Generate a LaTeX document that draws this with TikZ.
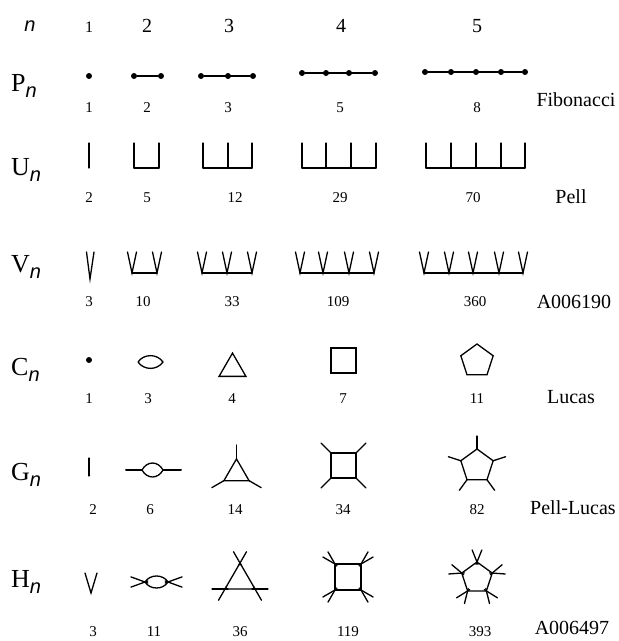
\documentclass[tikz,border=0pt]{standalone}
\usepackage{fontspec}
\setmainfont{Liberation Serif}
\setsansfont{Liberation Sans}
\usetikzlibrary{calc,shapes.geometric}
\newcommand{\nsub}{\raisebox{-6pt}{\fontsize{20}{20}\selectfont\sffamily\itshape n}}

\begin{document}
\begin{tikzpicture}[
  x=1pt, y=1pt,
  hd/.style={font=\fontsize{20}{22}\selectfont},
  rowlab/.style={anchor=base west, inner sep=0pt, font=\fontsize{26}{30}\selectfont},
  num/.style={font=\fontsize{15}{17}\selectfont},
  seq/.style={font=\fontsize{20}{22}\selectfont},
  edge/.style={line width=1.3pt, line cap=round},
  dot/.style={circle, fill, inner sep=0pt, minimum size=6pt},
  poly/.style={regular polygon, draw, line width=1.3pt, inner sep=0pt, outer sep=0pt}
]
\useasboundingbox (0,0) rectangle (619,-641);

% header and row labels
\node[hd] (hn) at (30,-26) {\sffamily\itshape n};
\node[hd, font=\fontsize{16}{18}\selectfont] (h1) at (89,-27) {1};
\foreach \x/\t in {147/2,229/3,341/4,477/5} \node[hd] (h\t) at (\x,-26) {\t};
\node[rowlab] (lp) at (11,-91) {P\nsub};
\node[rowlab] (lu) at (11,-175) {U\nsub};
\node[rowlab] (lv) at (11,-272) {V\nsub};
\node[rowlab] (lc) at (11,-375) {C\nsub};
\node[rowlab] (lg) at (11,-480) {G\nsub};
\node[rowlab] (lh) at (11,-587) {H\nsub};

% counts
\foreach \x/\t [count=\i] in {89/1,147/2,228/3,340/5,477/8} \node[num] (np\i) at (\x,-108) {\t};
\foreach \x/\t [count=\i] in {89/2,147/5,235/12,340/29,473/70} \node[num] (nu\i) at (\x,-198) {\t};
\foreach \x/\t [count=\i] in {89/3,143/10,232/33,338/109,475/360} \node[num] (nv\i) at (\x,-302) {\t};
\foreach \x/\t [count=\i] in {89/1,148/3,232/4,343/7,477/11} \node[num] (nc\i) at (\x,-399) {\t};
\foreach \x/\t [count=\i] in {93/2,150/6,235/14,343/34,477/82} \node[num] (ng\i) at (\x,-510) {\t};
\foreach \x/\t [count=\i] in {93/3,154/11,240/36,348/119,480/393} \node[num] (nh\i) at (\x,-632) {\t};

\node[seq] (fib) at (576,-100) {Fibonacci};
\node[seq] (pell) at (571,-197) {Pell};
\node[seq] (a190) at (574,-302) {A006190};
\node[seq] (luc) at (571,-397) {Lucas};
\node[seq] (pl) at (573,-508) {Pell-Lucas};
\node[seq] (a497) at (572,-628) {A006497};

% P row
\node[dot] (p11) at (89,-76) {};
\foreach \x [count=\i] in {134,161} \node[dot] (p2\i) at (\x,-76) {};
\draw[edge] (p21) -- (p22);
\foreach \x [count=\i] in {201,228,253} \node[dot] (p3\i) at (\x,-76) {};
\draw[edge] (p31) -- (p33);
\foreach \x [count=\i] in {302,326,349,375} \node[dot] (p4\i) at (\x,-73) {};
\draw[edge] (p41) -- (p44);
\foreach \x [count=\i] in {425,451,476,501,525} \node[dot] (p5\i) at (\x,-72) {};
\draw[edge, line width=2pt] (p51) -- (p55);

% U row
\draw[edge] (89,-143) -- (89,-168);
\foreach \xa/\xb/\l in {134/159/{134,159}, 203/252/{203,228,252}, 302/376/{302,326,351,376}, 426/525/{426,451,476,501,525}} {
  \draw[edge] (\xa,-168) -- (\xb,-168);
  \foreach \x in \l \draw[edge] (\x,-168) -- (\x,-143);
}

% V row
\draw[edge] (86.5,-252) -- (90,-279) -- (94,-252);
\foreach \xa/\xb/\l in {132/157/{132,157}, 202/252/{202,227,252}, 300/374/{300,323,349,374}, 424/523/{424,449,473,499,523}} {
  \draw[edge] (\xa,-273) -- (\xb,-273);
  \foreach \x in \l \draw[edge] (\x-4.5,-252) -- (\x,-273) -- (\x+4.5,-252);
}

% C row
\node[dot] (c1) at (89,-360) {};
\coordinate (c2l) at (138,-362);
\coordinate (c2r) at (163,-362);
\draw[edge] (c2l) .. controls +(6,8.5) and +(-6,8.5) .. (c2r) .. controls +(-6,-8.5) and +(6,-8.5) .. (c2l);
\node[poly, regular polygon sides=3, minimum size=31pt] (c3) at (232.5,-368.6) {};
\node[poly, regular polygon sides=4, minimum size=35.4pt] (c4) at (343.5,-360.5) {};
\node[poly, regular polygon sides=5, minimum size=34pt] (c5) at (477,-361) {};

% G row
\draw[edge] (89,-458) -- (89,-476);
\coordinate (g2l) at (142,-470);
\coordinate (g2r) at (163,-470);
\draw[edge] (g2l) .. controls +(5,9.3) and +(-5,9.3) .. (g2r) .. controls +(-5,-9.3) and +(5,-9.3) .. (g2l);
\draw[edge, line width=2pt] (g2l) -- ++(-16,0) (g2r) -- ++(18,0);
\node[poly, regular polygon sides=3, minimum size=29pt] (g3) at (236.5,-473.4) {};
\node[poly, regular polygon sides=4, minimum size=35.4pt] (g4) at (343.5,-465.5) {};
\node[poly, regular polygon sides=5, minimum size=34pt] (g5) at (477,-466) {};
\foreach \k in {1,2,3} \draw[edge] (g3.corner \k) -- ($(g3.corner \k)!-14pt!(g3.center)$);
\foreach \k in {1,...,4} \draw[edge] (g4.corner \k) -- ($(g4.corner \k)!-14pt!(g4.center)$);
\foreach \k in {1,...,5} \draw[edge] (g5.corner \k) -- ($(g5.corner \k)!-13pt!(g5.center)$);

% H row
\draw[edge] (85,-573) -- (91,-593) -- (97,-573);
\coordinate (h2l) at (145,-582);
\coordinate (h2r) at (168,-582);
\draw[edge] (h2l) .. controls +(5,8) and +(-5,8) .. (h2r) .. controls +(-5,-8) and +(5,-8) .. (h2l);
\draw[edge] (h2l) ++(160:15) -- ++(-20:18) (h2l) ++(200:15) -- ++(20:18);
\draw[edge] (h2r) ++(20:15) -- ++(200:18) (h2r) ++(-20:15) -- ++(160:18);
\node[poly, regular polygon sides=3, minimum size=34.6pt] (h3) at (240,-580.3) {};
\node[poly, regular polygon sides=4, minimum size=36.8pt] (h4) at (348,-577) {};
\node[poly, regular polygon sides=5, minimum size=32pt] (h5) at (477,-578) {};
\foreach \k in {1,2,3} {\foreach \a in {30,-30} {
  \draw[edge] ($(h3.corner \k)!-13pt!\a:(h3.center)$) -- ($(h3.corner \k)!3pt!\a:(h3.center)$);}}
\foreach \k in {1,...,4} {\foreach \a in {15,-15} {
  \draw[edge] ($(h4.corner \k)!-14pt!\a:(h4.center)$) -- ($(h4.corner \k)!2.5pt!\a:(h4.center)$);}}
\foreach \k in {1,...,5} {\foreach \a in {22,-22} {
  \draw[edge] ($(h5.corner \k)!-13pt!\a:(h5.center)$) -- ($(h5.corner \k)!2.5pt!\a:(h5.center)$);}}
\end{tikzpicture}
\end{document}
